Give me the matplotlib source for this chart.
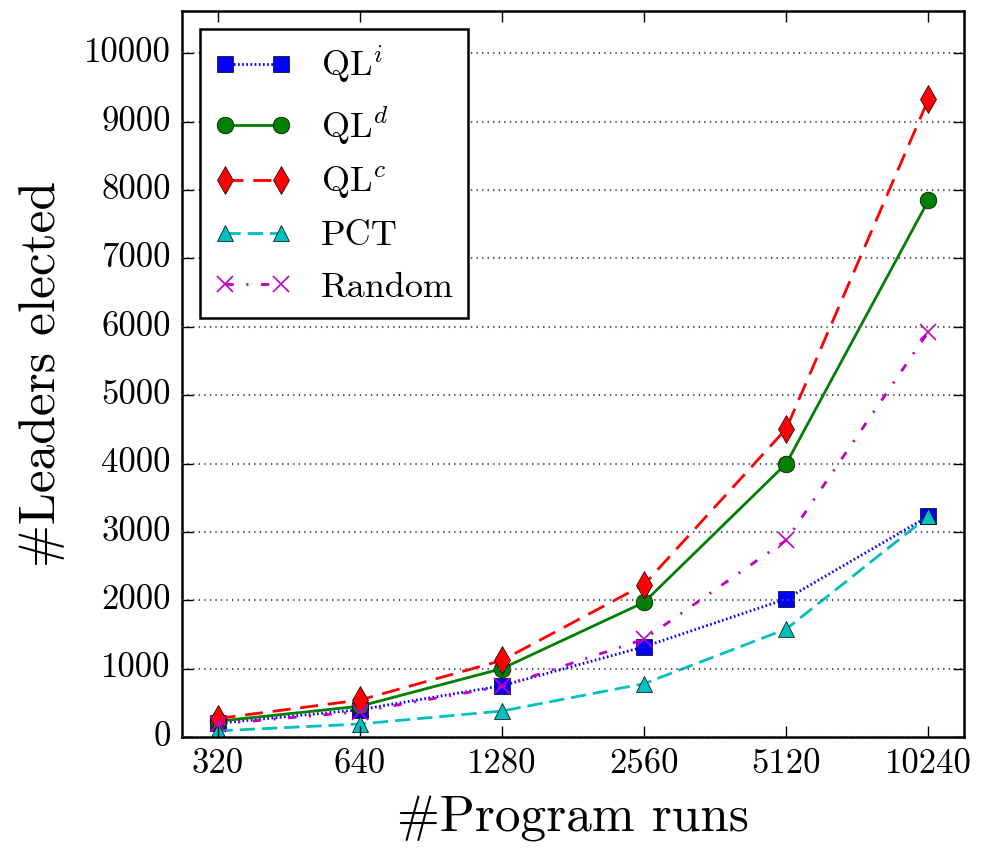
import matplotlib
matplotlib.use("Agg")
import matplotlib.pyplot as plt
from matplotlib.ticker import FixedLocator, FixedFormatter, NullLocator

runs = [320, 640, 1280, 2560, 5120, 10240]
run_labels = ["320", "640", "1280", "2560", "5120", "10240"]
ql_i = [200, 400, 750, 1320, 2020, 3230]
ql_d = [230, 450, 1000, 1970, 4000, 7850]
ql_c = [270, 540, 1120, 2230, 4510, 9330]
pct = [90, 190, 380, 780, 1580, 3230]
rand = [190, 370, 740, 1430, 2880, 5930]
y_ticks = list(range(0, 10001, 1000))

plt.style.use("classic")
plt.rcParams["font.family"] = ["cmr10", "DejaVu Serif"]
plt.rcParams["mathtext.fontset"] = "cm"
plt.rcParams["axes.formatter.use_mathtext"] = True

fig = plt.figure(figsize=(9.86, 8.48), dpi=100)
fig.patch.set_facecolor("white")
ax = fig.add_axes([182/986, 1-737/848, (964-182)/986, (737-11)/848])

ms = 12
lw = 2
ax.plot(runs, ql_i, color="b", ls=(0, (1.2, 1.8)), marker="s", ms=ms, mec="k", lw=lw, label=r"QL$^i$")
ax.plot(runs, ql_d, color="g", ls="-", marker="o", ms=ms, mec="k", lw=lw, label=r"QL$^d$")
ax.plot(runs, ql_c, color="r", ls=(0, (13, 7)), marker="d", ms=ms+2, mec="k", lw=lw, label=r"QL$^c$")
ax.plot(runs, pct, color="c", ls=(0, (11, 5)), marker="^", ms=ms, mec="k", lw=lw, label="PCT")
ax.plot(runs, rand, color="m", ls=(0, (6, 9, 1.5, 9)), marker="x", ms=ms, mec="m", mew=1.2, lw=lw, label="Random")

ax.set_xscale("log", base=2)
ax.set_xlim(320 / 2**0.25, 10240 * 2**0.25)
ax.xaxis.set_major_locator(FixedLocator(runs))
ax.xaxis.set_major_formatter(FixedFormatter(run_labels))
ax.xaxis.set_minor_locator(NullLocator())
ax.set_ylim(0, 10620)
ax.set_yticks(y_ticks)
ax.set_yticklabels([str(v) for v in y_ticks])
ax.yaxis.set_minor_locator(NullLocator())
ax.tick_params(axis="both", which="major", labelsize=25, length=8, width=1, direction="in", pad=8)
ax.yaxis.grid(True, color="0.35", ls=":", lw=1.5)
ax.xaxis.grid(False)
for s in ax.spines.values():
    s.set_linewidth(1.8)

ax.set_xlabel("#Program runs", fontsize=37, labelpad=12)
ax.set_ylabel("#Leaders elected", fontsize=37, labelpad=14)

leg = ax.legend(loc="upper left", fontsize=26, numpoints=2, frameon=True,
                handlelength=2.15, borderaxespad=0.5, labelspacing=0.52)
leg.get_frame().set_linewidth(1.8)
leg.get_frame().set_edgecolor("k")

fig.savefig("out.png", dpi=100, facecolor="white")
